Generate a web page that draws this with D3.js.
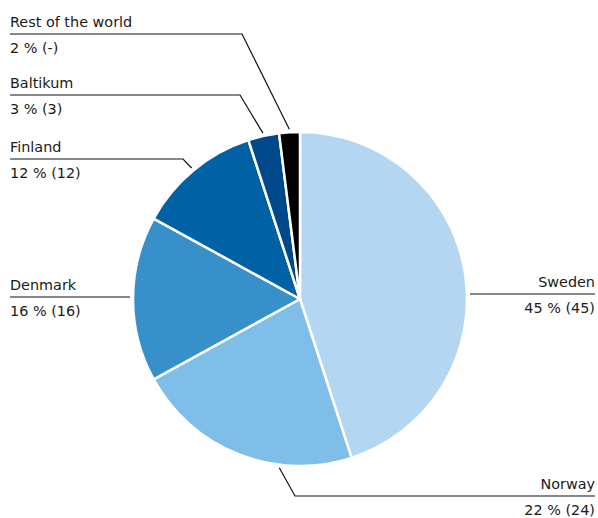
<!DOCTYPE html>
<html>
  <head>
    <meta charset="utf-8" />
    <title>Pie</title>
    <script src="https://d3js.org/d3.v7.min.js"></script>
    <style>
      body { margin: 0; background: #fff; }
      text { font-family: "DejaVu Sans", sans-serif; font-size: 14.4px; fill: #1a1a1a; }
    </style>
  </head>
  <body>
    <svg id="pie"></svg>
    <script>

      // data
      var countries = ["Sweden", "Norway", "Denmark", "Finland", "Baltikum", "Rest of the world"];
      var shares = [45, 22, 16, 12, 3, 2];
      var previous = ["45", "24", "16", "12", "3", "-"];
      var colors = ["#b4d6f1", "#7fbee8", "#3790c9", "#0062a4", "#00488a", "#000000"];

      var width = 598, height = 518;
      var cx = 300, cy = 299, radius = 167;

      // where each label sits: line y, side, and the elbow of the leader
      var layout = {
        "Sweden":            { lineY: 294, side: "right", x0: 470, x1: 595, angle: null },
        "Norway":            { lineY: 496, side: "right", x0: 295, x1: 595, angle: 187 },
        "Denmark":           { lineY: 297, side: "left",  x0: 10,  x1: 130, angle: null },
        "Finland":           { lineY: 159, side: "left",  x0: 10,  x1: 183, angle: "mid" },
        "Baltikum":          { lineY: 95,  side: "left",  x0: 10,  x1: 240, angle: "mid" },
        "Rest of the world": { lineY: 34,  side: "left",  x0: 10,  x1: 242, angle: "mid" }
      };

      var svg = d3.select("#pie")
        .attr("width", width)
        .attr("height", height);

      var data = countries.map(function(c, i) {
        return { name: c, value: shares[i], prev: previous[i], color: colors[i] };
      });

      var pie = d3.pie()
        .sort(null)
        .value(function(d) { return d.value; });

      var arc = d3.arc()
        .innerRadius(0)
        .outerRadius(radius);

      var arcs = pie(data);

      var g = svg.append("g")
        .attr("transform", "translate(" + cx + "," + cy + ")");

      g.selectAll("path")
        .data(arcs)
        .enter().append("path")
        .attr("d", arc)
        .style("fill", function(d) { return d.data.color; })
        .style("stroke", "#fff")
        .style("stroke-width", 2.5)
        .style("stroke-linejoin", "round");

      // leader lines
      var lines = svg.append("g");
      var labels = svg.append("g");

      arcs.forEach(function(a) {
        var L = layout[a.data.name];
        var pts;
        if (L.angle === null) {
          pts = [[L.x0, L.lineY], [L.x1, L.lineY]];
        } else {
          var ang = L.angle === "mid" ? (a.startAngle + a.endAngle) / 2 : L.angle * Math.PI / 180;
          var p = d3.pointRadial(ang, radius + 3);
          var tip = [cx + p[0], cy + p[1]];
          if (L.side === "left") {
            pts = [[L.x0, L.lineY], [L.x1, L.lineY], tip];
          } else {
            pts = [tip, [L.x0, L.lineY], [L.x1, L.lineY]];
          }
        }
        lines.append("path")
          .attr("d", d3.line()(pts))
          .style("fill", "none")
          .style("stroke", "#111")
          .style("stroke-width", 1.2);

        var tx = L.side === "left" ? L.x0 : L.x1;
        var anchor = L.side === "left" ? "start" : "end";
        labels.append("text")
          .attr("x", tx)
          .attr("y", L.lineY - 7)
          .attr("text-anchor", anchor)
          .text(a.data.name);
        labels.append("text")
          .attr("x", tx)
          .attr("y", L.lineY + 19)
          .attr("text-anchor", anchor)
          .text(a.data.value + " % (" + a.data.prev + ")");
      });

    </script>
  </body>
</html>
